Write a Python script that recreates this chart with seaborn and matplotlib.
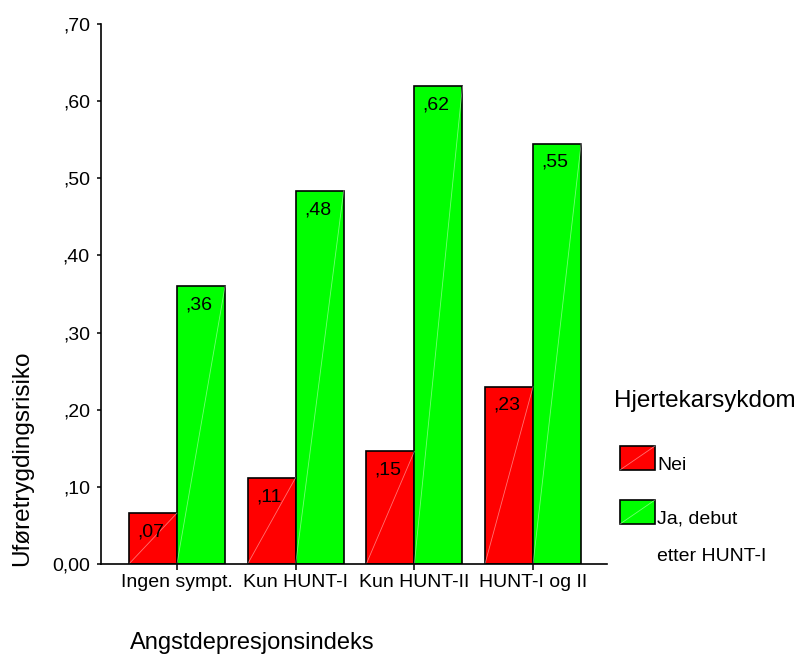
import matplotlib
matplotlib.use("Agg")
import matplotlib.pyplot as plt
from matplotlib.patches import Rectangle
from matplotlib.lines import Line2D
import seaborn as sns
import pandas as pd

# Data
categories = ["Ingen sympt.", "Kun HUNT-I", "Kun HUNT-II", "HUNT-I og II"]
groups = ["Nei", "Ja, debut"]
risk_nei = [0.066, 0.112, 0.146, 0.230]
risk_ja = [0.360, 0.484, 0.619, 0.545]
y_ticks = [0.0, 0.1, 0.2, 0.3, 0.4, 0.5, 0.6, 0.7]
y_tick_labels = ["0,00", ",10", ",20", ",30", ",40", ",50", ",60", ",70"]
colors = ["#FF0000", "#00FF00"]

df = pd.DataFrame({
    "indeks": categories * 2,
    "hjerte": [groups[0]] * len(categories) + [groups[1]] * len(categories),
    "risiko": risk_nei + risk_ja,
})

sns.set_theme(style="white")
plt.rcParams["font.family"] = ["Liberation Sans", "DejaVu Sans"]

W, H = 802, 657
fig = plt.figure(figsize=(W / 100, H / 100), dpi=100)
ax = fig.add_axes([101 / W, 1 - 564 / H, 506 / W, 540 / H])

sns.barplot(data=df, x="indeks", y="risiko", hue="hjerte", order=categories,
            hue_order=groups, palette=colors, width=0.81, edgecolor="black",
            linewidth=1.2, saturation=1, ax=ax, legend=False)

ax.set_xlim(-0.64, 3.623)
ax.set_ylim(0, 0.70)
ax.set_yticks(y_ticks)
ax.set_yticklabels(y_tick_labels)
ax.set_xlabel("")
ax.set_ylabel("")

for s in ["top", "right"]:
    ax.spines[s].set_visible(False)
for s in ["left", "bottom"]:
    ax.spines[s].set_color("black")
    ax.spines[s].set_linewidth(1.2)

ax.tick_params(axis="y", which="major", left=True, length=3, width=1.1,
               color="black", pad=5, labelsize=14, labelcolor="black")
ax.tick_params(axis="x", which="major", bottom=True, length=4.5, width=1.1,
               color="black", pad=2.5, labelsize=14, labelcolor="black")

# Faint diagonal sheen inside each bar, plus value label at its top-left
for container in ax.containers:
    for bar in container:
        x0, y0 = bar.get_x(), bar.get_y()
        w, h = bar.get_width(), bar.get_height()
        ax.plot([x0, x0 + w], [y0, y0 + h], color="white", lw=0.6, alpha=0.45,
                zorder=bar.get_zorder() + 0.1)
        ax.annotate(f"{h:.2f}".lstrip("0").replace(".", ","),
                    xy=(x0, y0 + h), xytext=(6, -7.5), textcoords="offset points",
                    ha="left", va="top", fontsize=14, color="black")

# Axis titles
fig.text(22 / W, 1 - 458 / H, "Uføretrygdingsrisiko", rotation=90,
         ha="center", va="center", fontsize=17.5, color="black")
fig.text(130 / W, 1 - 649 / H, "Angstdepresjonsindeks",
         ha="left", va="baseline", fontsize=17, color="black")

# Legend
fig.text(614 / W, 1 - 407 / H, "Hjertekarsykdom", ha="left", va="baseline",
         fontsize=17.5, color="black")
legend_rows = [(446, groups[0], colors[0]), (500, groups[1], colors[1])]
for top, label, col in legend_rows:
    x0, y0 = 620 / W, 1 - (top + 24) / H
    fw, fh = 35 / W, 24 / H
    fig.patches.append(Rectangle((x0, y0), fw, fh, transform=fig.transFigure,
                                 facecolor=col, edgecolor="black", lw=1.2))
    fig.lines.append(Line2D([x0, x0 + fw], [y0, y0 + fh], transform=fig.transFigure,
                            color="white", lw=0.6, alpha=0.45))
    fig.text(657 / W, 1 - (top + 24) / H, label, ha="left", va="baseline",
             fontsize=14, color="black")
fig.text(657 / W, 1 - 561 / H, "etter HUNT-I", ha="left", va="baseline",
         fontsize=14, color="black")

fig.savefig("out.png", dpi=100, facecolor="white")
